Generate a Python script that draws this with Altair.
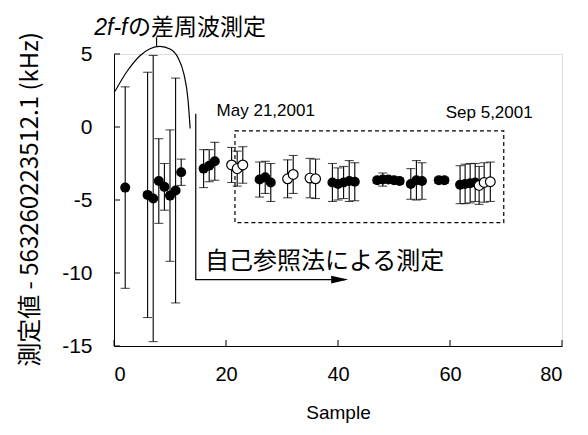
import altair as alt
import pandas as pd

# ---------------- data ----------------
filled_x = [2, 6, 7, 8, 9, 10, 11, 12, 16, 17, 18, 26, 27, 28, 39, 40, 41, 42, 43,
            47, 48, 49, 50, 51, 53, 54, 55, 58, 59, 61.8, 62.7, 63.6, 64.5]
filled_y = [-4.15, -4.65, -4.9, -3.7, -4.1, -4.7, -4.35, -3.1, -2.85, -2.65, -2.35,
            -3.6, -3.45, -3.8, -3.8, -3.9, -3.8, -3.7, -3.75,
            -3.65, -3.6, -3.6, -3.65, -3.7, -3.9, -3.65, -3.7, -3.65, -3.65,
            -3.95, -3.9, -3.85, -3.8]
filled_err = [6.9, 8.4, 9.8, 2.9, 1.6, 4.5, 7.7, 0.9, 1.3, 1.1, 1.3,
              1.2, 1.1, 1.3, 1.3, 1.1, 1.1, 1.4, 1.3,
              0.2, 0.45, 0.2, 0.2, 0.2, 1.05, 1.35, 1.25, 0.2, 0.2,
              1.3, 1.35, 1.35, 1.3]

open_x = [21, 22, 23, 31, 32, 35, 36, 65.2, 66.1, 67.2]
open_y = [-2.6, -2.85, -2.6, -3.55, -3.25, -3.5, -3.55, -4.0, -3.8, -3.75]
open_err = [1.2, 1.2, 1.25, 1.3, 1.3, 1.35, 1.35, 1.3, 1.35, 1.35]

x_ticks = [0, 20, 40, 60, 80]
y_ticks = [-15, -10, -5, 0, 5]

# annotation geometry (data coordinates)
curve_x = [0.18, 2.32, 4.64, 6.43, 8.21, 10.0, 11.43, 12.5, 13.21, 13.6]
curve_y = [2.45, 3.8, 4.88, 5.36, 5.52, 5.34, 4.75, 3.6, 1.9, -0.1]
rect_box = [21.6, 69.6, -0.26, -6.55]   # x1, x2, y1, y2
arrow_x = [14.6, 14.6, 41.3]
arrow_y = [0.9, -10.45, -10.45]

FONT = "Liberation Sans, Arial, 'Noto Sans CJK JP', sans-serif"
CJK = "'Noto Sans CJK JP', 'Liberation Sans', sans-serif"

W, H = 448, 292

fdf = pd.DataFrame({"x": filled_x, "y": filled_y, "e": filled_err})
odf = pd.DataFrame({"x": open_x, "y": open_y, "e": open_err})
for d in (fdf, odf):
    d["lo"] = d["y"] - d["e"]
    d["hi"] = d["y"] + d["e"]
edf = pd.concat([fdf, odf], ignore_index=True)

xs = alt.Scale(domain=[0, 80], nice=False, zero=False)
ys = alt.Scale(domain=[-15, 5], nice=False, zero=False)

X = lambda f="x": alt.X(f"{f}:Q", scale=xs, title="Sample",
                        axis=alt.Axis(values=x_ticks, tickSize=0, labelPadding=18,
                                      labelFontSize=20, titleFontSize=19,
                                      titleY=57, titleBaseline="top",
                                      labelFont=FONT, titleFont=FONT,
                                      labelExpr="'' + datum.value",
                                      titleFontWeight="normal", grid=False,
                                      domainColor="black", labelColor="black",
                                      titleColor="black"))
Y = lambda f="y": alt.Y(f"{f}:Q", scale=ys, title="測定値 - 563260223512.1 (kHz)",
                        axis=alt.Axis(values=y_ticks, tickSize=0, labelPadding=22,
                                      labelFontSize=21, titleFontSize=24,
                                      titleX=-72, titleY=145, titleFont=CJK, labelFont=FONT,
                                      labelExpr="'' + datum.value",
                                      titleFontWeight="normal", grid=False,
                                      domainColor="black", labelColor="black",
                                      titleColor="black"))

bars = alt.Chart(edf).mark_rule(color="black", strokeWidth=1.1).encode(
    x=X(), y=Y("lo"), y2="hi")
caps_lo = alt.Chart(edf).mark_tick(color="black", orient="horizontal", size=9,
                                   thickness=1.1).encode(x=X(), y=Y("lo"))
caps_hi = alt.Chart(edf).mark_tick(color="black", orient="horizontal", size=9,
                                   thickness=1.1).encode(x=X(), y=Y("hi"))
pts_f = alt.Chart(fdf).mark_point(shape="circle", filled=True, color="black",
                                  size=100, opacity=1).encode(x=X(), y=Y())
pts_o = alt.Chart(odf).mark_point(shape="circle", filled=True, fill="white",
                                  stroke="black", strokeWidth=1.2, size=95,
                                  opacity=1).encode(x=X(), y=Y())

# inward ticks
ytk = alt.Chart(pd.DataFrame({"v": y_ticks})).mark_rule(color="black", strokeWidth=1).encode(
    y=Y("v"), x=alt.value(0), x2=alt.value(6))
xtk = alt.Chart(pd.DataFrame({"v": x_ticks})).mark_rule(color="black", strokeWidth=1).encode(
    x=X("v"), y=alt.value(H), y2=alt.value(H - 6))

curve = alt.Chart(pd.DataFrame({"x": curve_x, "y": curve_y})).mark_line(
    color="black", strokeWidth=1.2, interpolate="monotone").encode(x=X(), y=Y())
leader = alt.Chart(pd.DataFrame({"x": [7.6], "y": [6.15], "y2": [5.52]})).mark_rule(
    color="black", strokeWidth=1.2).encode(x=X(), y=Y(), y2="y2")

box = alt.Chart(pd.DataFrame({"x": [rect_box[0]], "x2": [rect_box[1]],
                              "y": [rect_box[2]], "y2": [rect_box[3]]})).mark_rect(
    fill=None, fillOpacity=0, stroke="black", strokeWidth=1.2, strokeDash=[4, 3]).encode(
    x=X(), x2="x2", y=Y(), y2="y2")

arrow = alt.Chart(pd.DataFrame({"x": arrow_x, "y": arrow_y, "o": [0, 1, 2]})).mark_line(
    color="black", strokeWidth=1.2).encode(x=X(), y=Y(), order="o:Q")
head = alt.Chart(pd.DataFrame({"x": [40.3], "y": [-10.45]})).mark_point(
    shape="M -1 -0.45 L 1 0 L -1 0.45 Z", filled=True, color="black", size=289,
    opacity=1).encode(x=X(), y=Y())

def label(txt, x, y, size, align="left", font=FONT, style="normal"):
    return alt.Chart(pd.DataFrame({"x": [x], "y": [y], "t": [txt]})).mark_text(
        align=align, baseline="middle", fontSize=size, font=font, fontStyle=style,
        color="black").encode(x=X(), y=Y(), text="t:N")

texts = [
    label("May 21,2001", 27.1, 1.08, 17, align="center"),
    label("Sep 5,2001", 67.0, 0.97, 17, align="center"),
    label("自己参照法による測定", 16.25, -9.23, 24, font=CJK),
    label("2f-f", 2.4, 6.75, 23, align="right", style="italic"),
    label("の差周波測定", 2.5, 6.75, 23, font=CJK),
]

chart = alt.layer(
    box, arrow, head, curve, leader, bars, caps_lo, caps_hi, pts_f, pts_o, ytk, xtk, *texts
).properties(
    width=W, height=H,
    padding={"left": 106, "top": 46, "right": 16, "bottom": 81},
    autosize=alt.AutoSizeParams(type="none"),
).configure_view(stroke="black", strokeWidth=1.2).configure(background="white")

chart.save("out.html", embed_options={"renderer": "svg", "actions": False})
